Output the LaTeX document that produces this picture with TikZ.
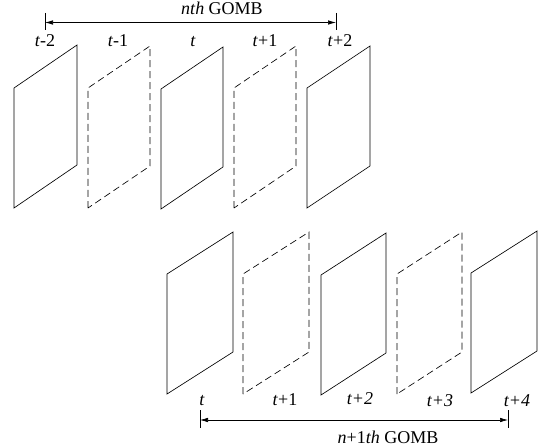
\documentclass[tikz,border=0pt]{standalone}
\usepackage{fontspec}
\setmainfont{Liberation Serif}
\usetikzlibrary{arrows.meta}
\tikzset{
  framebox/.style={draw, line width=0.65pt, line join=miter},
  dashframe/.style={framebox, dash pattern=on 7pt off 4pt},
  lbl/.style={font=\fontsize{18}{20}\selectfont, inner sep=0pt, anchor=base},
  span/.style={line width=0.65pt, {Latex[length=8pt,width=4.5pt]}-{Latex[length=8pt,width=4.5pt]}},
  tick/.style={line width=0.65pt}
}
\newcommand{\frm}[5]{% style, x, ybottom, width, rise
  \draw[#1] (#2,#3) -- (#2,#3-120) -- (#2+#4,#3-120-#5) -- (#2+#4,#3-#5) -- cycle;}
\begin{document}
\begin{tikzpicture}[x=1pt,y=-1pt]
\useasboundingbox (0,0) rectangle (545,446);
% top row
\frm{framebox}{14}{208}{63}{43}
\frm{dashframe}{88}{208}{62}{42}
\frm{framebox}{161}{209}{62}{42}
\frm{dashframe}{234}{208}{62}{42}
\frm{framebox}{307}{208}{63}{42}
% top labels
\node[lbl] (a1) at (45,47) {\textit{t}-2};
\node[lbl] (a2) at (118,47) {\textit{t}-1};
\node[lbl] (a3) at (193,47) {\textit{t}};
\node[lbl] (a4) at (265,47) {\textit{t}+1};
\node[lbl] (a5) at (340,47) {\textit{t}+2};
% top span
\coordinate (s1) at (45,22.5);
\coordinate (s2) at (336,22.5);
\draw[tick] (45,13) -- (45,30);
\draw[tick] (336,13) -- (336,30);
\draw[span] (s1) -- (s2);
\node[lbl] (g1) at (222,15) {\textit{nth} GOMB};
% bottom row
\frm{framebox}{167}{394}{66}{42}
\frm{dashframe}{243}{394}{66}{42}
\frm{framebox}{321}{395}{65}{42}
\frm{dashframe}{397}{394}{65}{42}
\frm{framebox}{471}{393}{66}{42}
% bottom labels
\node[lbl] (b1) at (202,405) {\textit{t}};
\node[lbl] (b2) at (285,405) {\textit{t}+1};
\node[lbl] (b3) at (360,404) {\textit{t+2}};
\node[lbl] (b4) at (440,406) {\textit{t+3}};
\node[lbl] (b5) at (517,406) {\textit{t+4}};
% bottom span
\coordinate (r1) at (200,420);
\coordinate (r2) at (508,420);
\draw[tick] (200,410) -- (200,428);
\draw[tick] (508,410) -- (508,428);
\draw[span] (r1) -- (r2);
\node[lbl] (g2) at (388,443) {\textit{n}+1\textit{th} GOMB};
\end{tikzpicture}
\end{document}
